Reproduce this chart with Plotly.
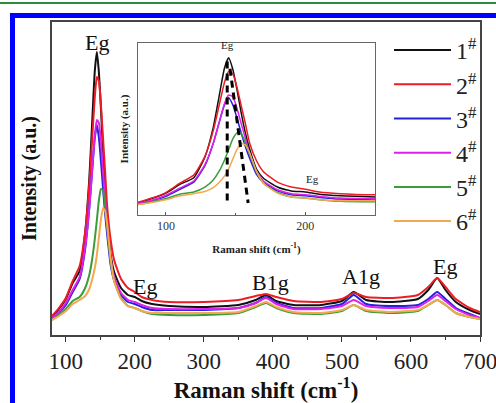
import plotly.graph_objects as go

# ---------------- data ----------------
shift = [80, 90, 100, 110, 120, 128, 134, 138, 142, 145, 148, 151, 154, 157, 160, 165, 170, 180, 190,
         200, 210, 225, 250, 300, 350, 375, 390, 405, 430, 470, 500, 517, 535, 570, 610, 625, 638, 650,
         665, 685, 700]

s1 = [18, 26, 36, 52, 64, 102, 156, 210, 264, 283, 262, 225, 183, 146, 117, 80, 63, 47, 40,
      38, 34, 31, 29, 28, 30, 35, 40, 34, 30, 30, 34, 43, 35, 33, 36, 45, 57, 45, 33, 25, 21]
s2 = [19, 27, 37, 54, 69, 103, 150, 194, 238, 258, 254, 229, 196, 163, 128, 95, 75, 56, 47,
      43, 38, 35, 33, 33, 35, 39, 41, 38, 34, 33, 36, 42, 38, 37, 40, 48, 57, 48, 36, 27, 23]
s3 = [16, 22, 30, 43, 56, 86, 127, 163, 197, 210, 197, 173, 146, 121, 100, 70, 55, 40, 33,
      31, 28, 25, 25, 25, 27, 32, 38, 32, 27, 27, 31, 40, 31, 29, 30, 36, 43, 36, 27, 21, 17]
s4 = [17, 23, 32, 45, 58, 88, 127, 163, 199, 215, 212, 191, 163, 136, 108, 76, 58, 42, 35,
      33, 30, 27, 26, 26, 27, 32, 37, 31, 26, 26, 29, 35, 29, 27, 28, 34, 40, 34, 26, 20, 17]
s5 = [15, 20, 26, 34, 38, 47, 60, 75, 96, 115, 135, 146, 145, 128, 108, 74, 54, 37, 29,
      27, 24, 21, 20, 20, 22, 28, 32, 27, 22, 21, 24, 30, 24, 22, 24, 30, 35, 30, 22, 18, 16]
s6 = [15, 19, 24, 31, 35, 39, 46, 55, 67, 80, 98, 116, 127, 124, 110, 76, 54, 36, 29,
      27, 24, 22, 22, 22, 23, 29, 33, 28, 23, 22, 25, 30, 25, 23, 25, 30, 35, 30, 22, 18, 16]

series_names = ["1<sup>#</sup>", "2<sup>#</sup>", "3<sup>#</sup>",
                "4<sup>#</sup>", "5<sup>#</sup>", "6<sup>#</sup>"]
series_values = [s1, s2, s3, s4, s5, s6]
series_colors = ["#111111", "#ee1c24", "#2222dd", "#e020e6", "#3a9c3a", "#f4a850"]

# peak-position guide lines in the inset
guide1_x = [144, 144]
guide1_y = [276, 18]
guide2_x = [146, 159]
guide2_y = [263, 18]

# mode labels (main panel)
mode_labels = ["Eg", "Eg", "B1g", "A1g", "Eg"]
mode_x = [145, 214, 397, 528, 649]
mode_y = [293, 49, 53, 59, 69]

inset_labels = ["Eg", "Eg"]
inset_label_x = [144, 205]
inset_label_y = [292, 48]

main_ticks = [100, 200, 300, 400, 500, 600, 700]
inset_ticks = [100, 200]

SERIF = "Liberation Serif"

fig = go.Figure()

for name, vals, col in zip(series_names, series_values, series_colors):
    fig.add_trace(go.Scatter(x=shift, y=vals, mode="lines", name=name,
                             line=dict(color=col, width=2, shape="spline", smoothing=0.5),
                             xaxis="x", yaxis="y", showlegend=True))

for name, vals, col in zip(series_names, series_values, series_colors):
    fig.add_trace(go.Scatter(x=shift, y=vals, mode="lines", name=name,
                             line=dict(color=col, width=1.5, shape="spline", smoothing=0.5),
                             xaxis="x2", yaxis="y2", showlegend=False))

for gx, gy in [(guide1_x, guide1_y), (guide2_x, guide2_y)]:
    fig.add_trace(go.Scatter(x=gx, y=gy, mode="lines", showlegend=False,
                             line=dict(color="black", width=3, dash="7px,5px"),
                             xaxis="x2", yaxis="y2"))

for t, x, y in zip(mode_labels, mode_x, mode_y):
    fig.add_annotation(x=x, y=y, xref="x", yref="y", text=t, showarrow=False,
                       font=dict(family=SERIF, size=22, color="#111"), yanchor="middle")

for t, x, y in zip(inset_labels, inset_label_x, inset_label_y):
    fig.add_annotation(x=x, y=y, xref="x2", yref="y2", text=t, showarrow=False,
                       font=dict(family=SERIF, size=11, color="#222"), yanchor="bottom")

# decorative page border (green rule + blue frame)
fig.add_shape(type="line", xref="paper", yref="paper", x0=-0.2, x1=1.2,
              y0=(335 - 3) / 313, y1=(335 - 3) / 313, line=dict(color="#2e8b3e", width=2))
fig.add_shape(type="path", xref="paper", yref="paper",
              path="M %f,%f L %f,%f L %f,%f" % ((12.5 - 52) / 428, (335 - 420) / 313,
                                                 (12.5 - 52) / 428, (335 - 15.5) / 313,
                                                 (520 - 52) / 428, (335 - 15.5) / 313),
              line=dict(color="#0000ff", width=5))

fig.update_layout(
    width=496, height=403,
    margin=dict(l=52, r=16, t=22, b=68, autoexpand=False),
    paper_bgcolor="white", plot_bgcolor="white",
    font=dict(family=SERIF, color="#111"),
    xaxis=dict(domain=[0, 1], range=[80, 700], tickvals=main_ticks, automargin=False,
               ticks="outside", ticklen=5, tickwidth=1.2, tickcolor="#333",
               minor=dict(dtick=50, tick0=50, ticks="outside", ticklen=3, tickcolor="#333"),
               showline=True, linecolor="#444", linewidth=1.5, mirror=True,
               showgrid=False, zeroline=False, ticklabeloverflow="allow",
               tickfont=dict(family=SERIF, size=23, color="#222"),
               title=dict(text="<b>Raman shift (cm<sup>-1</sup>)</b>", standoff=3,
                          font=dict(family=SERIF, size=23, color="#111"))),
    yaxis=dict(domain=[0, 1], range=[0, 313], showticklabels=False, ticks="", automargin=False,
               showline=True, linecolor="#444", linewidth=1.5, mirror=True,
               showgrid=False, zeroline=False,
               title=dict(text="<b>Intensity (a.u.)</b>", standoff=8,
                          font=dict(family=SERIF, size=20, color="#111"))),
    xaxis2=dict(domain=[(138 - 52) / 428, (375 - 52) / 428], anchor="y2", automargin=False,
                range=[80, 250], tickvals=inset_ticks,
                ticks="inside", ticklen=3, tickcolor="#555",
                minor=dict(dtick=50, tick0=50, ticks="inside", ticklen=2, tickcolor="#555"),
                showline=True, linecolor="#666", linewidth=1, mirror=True,
                showgrid=False, zeroline=False,
                tickfont=dict(family=SERIF, size=12, color="#333"),
                title=dict(text="<b>Raman shift (cm<sup>-1</sup>)</b>", standoff=12,
                           font=dict(family=SERIF, size=11, color="#222"))),
    yaxis2=dict(domain=[(335 - 215) / 313, (335 - 43) / 313], anchor="x2", automargin=False,
                range=[-4, 310], showticklabels=False, ticks="",
                showline=True, linecolor="#666", linewidth=1, mirror=True,
                showgrid=False, zeroline=False,
                title=dict(text="<b>Intensity (a.u.)</b>", standoff=6,
                           font=dict(family=SERIF, size=11, color="#222"))),
    legend=dict(x=(389 - 52) / 428, y=(335 - 28) / 313, xanchor="left", yanchor="top",
                bgcolor="rgba(0,0,0,0)", borderwidth=0,
                font=dict(family=SERIF, size=24, color="#222"),
                itemwidth=57, tracegroupgap=0),
    showlegend=True,
)

fig.write_html("out.html")
